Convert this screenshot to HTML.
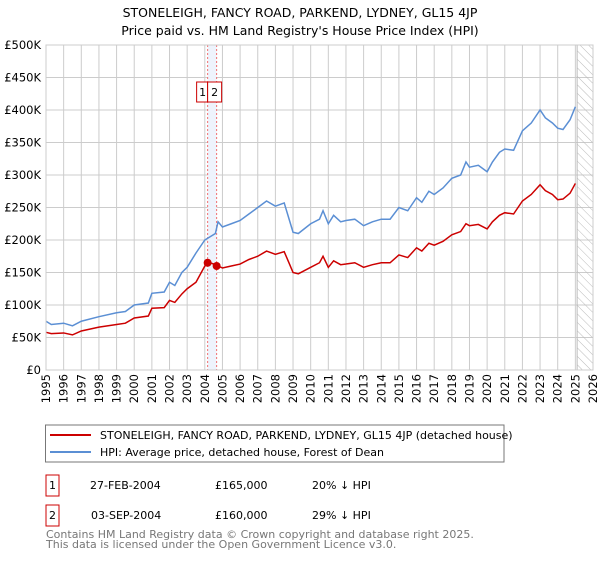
<!DOCTYPE html>
<html><head><meta charset="utf-8"><style>
body{margin:0;width:600px;height:560px;background:#fff;font-family:"Liberation Sans","DejaVu Sans",sans-serif;overflow:hidden}
svg text{font-family:"DejaVu Sans","Liberation Sans",sans-serif}
</style></head><body>
<svg id="c" width="600" height="560">
<text x="300" y="17" text-anchor="middle" font-size="12.5">STONELEIGH, FANCY ROAD, PARKEND, LYDNEY, GL15 4JP</text>
<text x="300" y="35" text-anchor="middle" font-size="12.5">Price paid vs. HM Land Registry's House Price Index (HPI)</text>
<defs><pattern id="h" width="6" height="6" patternUnits="userSpaceOnUse" patternTransform="rotate(-45)"><line x1="0" y1="0" x2="0" y2="6" stroke="#bbb" stroke-width="1"/></pattern></defs>
<g id="grid"></g><g id="marks"></g>
<rect x="45.5" y="425" width="458.5" height="37" fill="#fff" stroke="#777"/>
<line x1="50" y1="435" x2="91" y2="435" stroke="#cc0000" stroke-width="2"/>
<text x="100" y="439" font-size="11">STONELEIGH, FANCY ROAD, PARKEND, LYDNEY, GL15 4JP (detached house)</text>
<line x1="50" y1="452" x2="91" y2="452" stroke="#5b8fd4" stroke-width="2"/>
<text x="100" y="456" font-size="11">HPI: Average price, detached house, Forest of Dean</text>
<g font-size="11">
<rect x="46" y="475" width="13" height="21" fill="#fff" stroke="#cc0000"/>
<text x="52.5" y="489" text-anchor="middle">1</text>
<text x="90" y="489">27-FEB-2004</text>
<text x="215" y="489">£165,000</text>
<text x="312" y="489">20% ↓ HPI</text>
<rect x="46" y="505" width="13" height="21" fill="#fff" stroke="#cc0000"/>
<text x="52.5" y="519" text-anchor="middle">2</text>
<text x="91" y="519">03-SEP-2004</text>
<text x="215" y="519">£160,000</text>
<text x="312" y="519">29% ↓ HPI</text>
</g>
<text x="46" y="538" font-size="11" fill="#777">Contains HM Land Registry data © Crown copyright and database right 2025.</text>
<text x="46" y="548" font-size="11" fill="#777">This data is licensed under the Open Government Licence v3.0.</text>
</svg>
<script>
const hpiYears=[1995,1995.3,1996,1996.5,1997,1998,1999,1999.5,2000,2000.8,2001,2001.7,2002,2002.3,2002.7,2003,2003.5,2004,2004.3,2004.6,2004.75,2005,2005.5,2006,2006.5,2007,2007.5,2008,2008.5,2008.8,2009,2009.3,2010,2010.5,2010.7,2011,2011.3,2011.7,2012,2012.5,2013,2013.5,2014,2014.5,2015,2015.5,2016,2016.3,2016.7,2017,2017.5,2018,2018.5,2018.8,2019,2019.5,2020,2020.3,2020.7,2021,2021.5,2022,2022.5,2023,2023.3,2023.7,2024,2024.3,2024.7,2025];
const hpiValues=[75,70,72,68,75,82,88,90,100,103,118,120,135,130,150,158,180,200,205,210,228,220,225,230,240,250,260,252,257,230,212,210,225,232,245,225,238,228,230,232,222,228,232,232,250,245,265,258,275,270,280,295,300,320,312,315,305,320,335,340,338,368,380,400,388,380,372,370,385,405];
const propValues=[58,56,57,54,60,66,70,72,80,83,95,96,107,104,117,125,135,160,165,162,160,157,160,163,170,175,183,178,182,163,150,148,158,165,175,158,168,162,163,165,158,162,165,165,177,173,188,183,195,192,198,208,213,225,222,224,217,228,238,242,240,260,270,285,276,270,262,263,272,287];
const saleYears=[2004.16,2004.67];
const saleValues=[165,160];
const yTicks=[0,50,100,150,200,250,300,350,400,450,500];
const yTickLabels=["£0","£50K","£100K","£150K","£200K","£250K","£300K","£350K","£400K","£450K","£500K"];
const xTicks=[1995,1996,1997,1998,1999,2000,2001,2002,2003,2004,2005,2006,2007,2008,2009,2010,2011,2012,2013,2014,2015,2016,2017,2018,2019,2020,2021,2022,2023,2024,2025,2026];
const X0=46,X1=593,Y0=370,Y1=45;
const xs=y=>X0+(y-1995)/(2026-1995)*(X1-X0);
const ys=v=>Y0-v/500*(Y0-Y1);
const NS="http://www.w3.org/2000/svg";
function mk(t,a,p){const e=document.createElementNS(NS,t);for(const k in a)e.setAttribute(k,a[k]);p.appendChild(e);return e;}
const g=document.getElementById('grid'),m=document.getElementById('marks');
yTicks.forEach((v,i)=>{
 const l=mk('line',{x1:X0,x2:X1,y1:ys(v),y2:ys(v),stroke:'#ccc'},g);
 
 
 const t=mk('text',{x:X0-5,y:ys(v)+4,'text-anchor':'end','font-size':'11.5'},g);
 t.textContent=yTickLabels[i];
 
 
});
xTicks.forEach(y=>{
 const l=mk('line',{x1:xs(y),x2:xs(y),y1:Y1,y2:Y0,stroke:'#ccc'},g);
 
 
 const t=mk('text',{x:xs(y)+4,y:Y0+4,'text-anchor':'end','font-size':'11.5',transform:`rotate(-90 ${xs(y)+4} ${Y0+4})`},g);
 t.textContent=y;
 
 
});
const band=mk('rect',{x:xs(saleYears[0]),y:Y1,width:xs(saleYears[1])-xs(saleYears[0]),height:Y0-Y1,fill:'#eef3fc'},m);


const bx=xs(saleYears[0]);
saleYears.forEach((y,i)=>{
 const l=mk('line',{x1:xs(y),x2:xs(y),y1:Y1,y2:Y0,stroke:'#f07070','stroke-dasharray':'2,2'},m);
 
 
 const r=mk('rect',{x:i==0?bx-11:bx,y:82,width:i==0?11:14,height:20,fill:'#fff',stroke:'#cc0000'},m);
 
 
 const t=mk('text',{x:i==0?bx-5:bx+7,y:96,'text-anchor':'middle','font-size':'11'},m);
 t.textContent=String(i+1);
 
 
});
const hs=mk('rect',{x:xs(2025.1),y:Y1,width:X1-xs(2025.1),height:Y0-Y1,fill:'url(#h)',stroke:'#bbb'},m);


const hl=mk('polyline',{points:hpiYears.map((y,i)=>xs(y)+','+ys(hpiValues[i])).join(' '),fill:'none',stroke:'#5b8fd4','stroke-width':1.5},m);


const pl=mk('polyline',{points:hpiYears.map((y,i)=>xs(y)+','+ys(propValues[i])).join(' '),fill:'none',stroke:'#cc0000','stroke-width':1.5},m);


saleYears.forEach((y,i)=>{
 const c=mk('circle',{cx:xs(y),cy:ys(saleValues[i]),r:4,fill:'#cc0000'},m);
 
 
});
const ax=mk('rect',{x:X0,y:Y1,width:X1-X0,height:Y0-Y1,fill:'none',stroke:'#ccc'},m);


</script>
</body></html>
